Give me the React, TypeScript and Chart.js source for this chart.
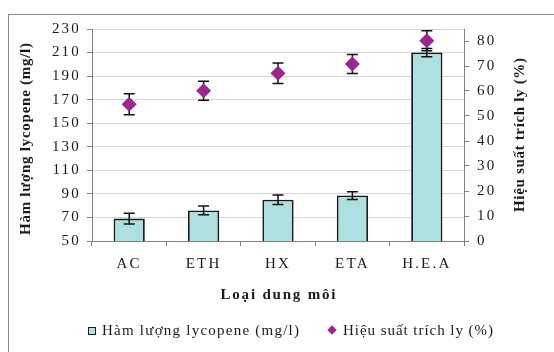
import React, { useEffect, useRef } from 'react';
import { Chart, registerables } from 'chart.js';

Chart.register(...registerables);

const categories = ['AC', 'ETH', 'HX', 'ETA', 'H.E.A'];
const lycopene = [69, 76, 85, 88.6, 210];
const lycopeneErr = [4.6, 3.7, 4, 3.3, 3.5];
const yieldPct = [54.7, 60.1, 67.1, 70.8, 80.1];
const yieldErr = [4.2, 3.8, 4.1, 3.8, 4];
const rightTicks = [0, 10, 20, 30, 40, 50, 60, 70, 80];

const barLabel = 'Hàm lượng lycopene (mg/l)';
const pointLabel = 'Hiệu suất trích ly (%)';
const xTitle = 'Loại dung môi';
const yTitle = 'Hàm lượng lycopene (mg/l)';
const y1Title = 'Hiệu suất trích ly (%)';

const SERIF = '"Liberation Serif", "Times New Roman", serif';
const BAR_FILL = '#ade0df';
const BAR_BORDER = '#1a1a1a';
const PURPLE = '#99278f';
const AXIS = '#808080';
const TEXT = '#1a1a1a';

function drawSpaced(ctx: CanvasRenderingContext2D, text: string, x: number, y: number, width: number, align: 'left' | 'center') {
  (ctx as any).letterSpacing = '0px';
  const w0 = ctx.measureText(text).width;
  const n = Array.from(text).length;
  const s = n > 1 ? (width - w0) / (n - 1) : 0;
  (ctx as any).letterSpacing = s + 'px';
  ctx.textAlign = 'left';
  const start = align === 'center' ? x - width / 2 : x;
  ctx.fillText(text, start, y);
  (ctx as any).letterSpacing = '0px';
}

function drawErrors(chart: any, dsIndex: number, values: number[], errs: number[], axisId: string) {
  const meta = chart.getDatasetMeta(dsIndex);
  const scale = chart.scales[axisId];
  const ctx: CanvasRenderingContext2D = chart.ctx;
  ctx.save();
  ctx.strokeStyle = '#111';
  ctx.lineWidth = 1.5;
  meta.data.forEach((el: any, i: number) => {
    const x = el.x;
    const yTop = scale.getPixelForValue(values[i] + errs[i]);
    const yBot = scale.getPixelForValue(values[i] - errs[i]);
    ctx.beginPath();
    ctx.moveTo(x, yTop);
    ctx.lineTo(x, yBot);
    ctx.moveTo(x - 5.5, yTop);
    ctx.lineTo(x + 5.5, yTop);
    ctx.moveTo(x - 5.5, yBot);
    ctx.lineTo(x + 5.5, yBot);
    ctx.stroke();
  });
  ctx.restore();
}

const decor = {
  id: 'decor',
  beforeDraw(chart: any) {
    const ctx: CanvasRenderingContext2D = chart.ctx;
    ctx.save();
    ctx.fillStyle = '#fff';
    ctx.fillRect(0, 0, chart.width, chart.height);
    ctx.strokeStyle = '#8a8a8a';
    ctx.lineWidth = 1;
    ctx.strokeRect(8.5, 14.5, chart.width + 20, chart.height + 20);
    ctx.restore();
    (ctx as any).letterSpacing = '2.2px';
  },
  beforeDatasetsDraw(chart: any) {
    (chart.ctx as any).letterSpacing = '0px';
  },
  afterDatasetDraw(chart: any, args: any) {
    if (args.index === 0) drawErrors(chart, 0, lycopene, lycopeneErr, 'y');
  },
  beforeDatasetDraw(chart: any, args: any) {
    if (args.index === 1) drawErrors(chart, 1, yieldPct, yieldErr, 'y1');
  },
  afterDraw(chart: any) {
    const ctx: CanvasRenderingContext2D = chart.ctx;
    ctx.save();
    ctx.fillStyle = TEXT;
    ctx.textBaseline = 'alphabetic';
    // x title
    ctx.font = `bold 15px ${SERIF}`;
    drawSpaced(ctx, xTitle, 278, 299, 115, 'center');
    // left title
    ctx.save();
    ctx.translate(29.5, 139);
    ctx.rotate(-Math.PI / 2);
    drawSpaced(ctx, yTitle, 0, 0, 192, 'center');
    ctx.restore();
    // right title
    ctx.save();
    ctx.translate(524, 135);
    ctx.rotate(-Math.PI / 2);
    drawSpaced(ctx, y1Title, 0, 0, 154, 'center');
    ctx.restore();
    // legend
    ctx.font = `15px ${SERIF}`;
    ctx.fillStyle = BAR_FILL;
    ctx.fillRect(88, 327, 8, 8);
    ctx.strokeStyle = BAR_BORDER;
    ctx.lineWidth = 1;
    ctx.strokeRect(88.5, 327.5, 7, 7);
    ctx.fillStyle = TEXT;
    drawSpaced(ctx, barLabel, 102, 335, 197, 'left');
    ctx.fillStyle = PURPLE;
    ctx.beginPath();
    ctx.moveTo(332, 325.3);
    ctx.lineTo(336.7, 330);
    ctx.lineTo(332, 334.7);
    ctx.lineTo(327.3, 330);
    ctx.closePath();
    ctx.fill();
    ctx.fillStyle = TEXT;
    drawSpaced(ctx, pointLabel, 343, 335, 150, 'left');
    ctx.restore();
  },
};

export default function App() {
  const ref = useRef<HTMLCanvasElement | null>(null);
  useEffect(() => {
    if (!ref.current) return;
    const tickFont = { family: SERIF, size: 15 };
    const chart = new Chart(ref.current, {
      type: 'bar',
      data: {
        labels: categories,
        datasets: [
          {
            type: 'bar',
            label: barLabel,
            data: lycopene,
            yAxisID: 'y',
            backgroundColor: BAR_FILL,
            borderColor: BAR_BORDER,
            borderWidth: 1.8,
            barPercentage: 0.42,
            categoryPercentage: 1,
            order: 2,
          } as any,
          {
            type: 'line',
            label: pointLabel,
            data: yieldPct,
            yAxisID: 'y1',
            showLine: false,
            pointStyle: 'rectRot',
            pointRadius: 7.5,
            pointBackgroundColor: PURPLE,
            pointBorderColor: PURPLE,
            pointBorderWidth: 0,
            order: 1,
          } as any,
        ],
      },
      options: {
        responsive: false,
        animation: false,
        devicePixelRatio: 1,
        layout: { padding: { top: 29, left: 0, right: 0, bottom: 0 } },
        plugins: { legend: { display: false }, tooltip: { enabled: false }, title: { display: false } },
        scales: {
          x: {
            offset: true,
            grid: { display: true, drawOnChartArea: false, drawTicks: true, tickLength: 5, tickColor: AXIS, offset: true },
            border: { display: true, color: AXIS, width: 1 },
            ticks: { font: tickFont, color: TEXT, padding: 9, maxRotation: 0, autoSkip: false },
            afterFit: (s: any) => { s.height = 111; },
          },
          y: {
            position: 'left',
            min: 50,
            max: 230,
            ticks: { stepSize: 20, font: tickFont, color: TEXT, padding: 6 },
            grid: { color: '#d6d6d6', tickColor: AXIS, tickLength: 5 },
            border: { color: AXIS },
            afterFit: (s: any) => { s.width = 92; },
          },
          y1: {
            position: 'right',
            min: 0,
            max: 84.8,
            ticks: { stepSize: 10, font: tickFont, color: TEXT, padding: 8 },
            afterBuildTicks: (s: any) => { s.ticks = rightTicks.map((v) => ({ value: v })); },
            grid: { drawOnChartArea: false, tickColor: AXIS, tickLength: 5 },
            border: { color: AXIS },
            afterFit: (s: any) => { s.width = 90; },
          },
        } as any,
      },
      plugins: [decor],
    });
    return () => chart.destroy();
  }, []);
  return (
    <div style={{ position: 'absolute', left: 0, top: 0, width: 554, height: 352 }}>
      <canvas ref={ref} width={554} height={352} style={{ display: 'block', width: 554, height: 352 }} />
    </div>
  );
}
